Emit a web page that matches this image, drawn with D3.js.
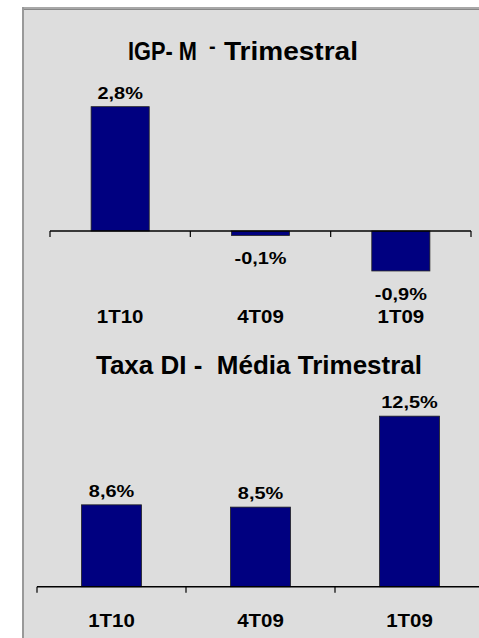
<!DOCTYPE html>
<html><head><meta charset="utf-8">
<script src="https://cdn.jsdelivr.net/npm/d3@7"></script>
<style>body{margin:0;background:#fff;}svg{display:block;}</style>
</head><body>
<script>
const categories = ["1T10", "4T09", "1T09"];
const igpValues = [2.8, -0.1, -0.9];
const igpLabels = ["2,8%", "-0,1%", "-0,9%"];
const diValues = [8.6, 8.5, 12.5];
const diLabels = ["8,6%", "8,5%", "12,5%"];

const W = 479, H = 638;
const svg = d3.select("body").append("svg").attr("width", W).attr("height", H);
const font = "'Liberation Sans', Arial, sans-serif";

// panel
svg.append("rect").attr("x", 23).attr("y", 8).attr("width", W).attr("height", H).attr("fill", "#dddddd");
svg.append("line").attr("x1", 22).attr("x2", W).attr("y1", 8).attr("y2", 8).attr("stroke", "#a8a8a8").attr("stroke-width", 2);
svg.append("line").attr("x1", 22).attr("x2", W).attr("y1", 9.5).attr("y2", 9.5).attr("stroke", "#888").attr("stroke-width", 1);
svg.append("line").attr("x1", 23).attr("x2", 23).attr("y1", 7).attr("y2", H).attr("stroke", "#999").attr("stroke-width", 2);

function drawChart(g, opts) {
  const x = d3.scaleBand().domain(categories).range([opts.x0, opts.x1]);
  const y = d3.scaleLinear().domain(opts.domain).range(opts.yrange);
  const bw = x.bandwidth() * opts.barFrac;
  const base = y(opts.base);

  g.selectAll("rect.bar").data(opts.values).join("rect")
    .attr("class", "bar")
    .attr("x", (d, i) => x(categories[i]) + (x.bandwidth() - bw) / 2)
    .attr("y", d => Math.min(y(d), base))
    .attr("width", bw)
    .attr("height", d => Math.abs(y(d) - base))
    .attr("fill", "#000080").attr("stroke", "#222").attr("stroke-width", 0.8);

  // axis
  const axis = d3.axisBottom(x).tickSize(0).tickFormat("");
  const ag = g.append("g").attr("transform", `translate(0,${base})`).call(axis);
  ag.select(".domain").attr("stroke", "#000").attr("stroke-width", 1.6).attr("d", `M${opts.x0},0H${opts.x1}`);
  const edges = categories.map(c => x(c)).concat([opts.x1]);
  ag.selectAll("line.edge").data(edges).join("line").attr("class", "edge")
    .attr("x1", d => d).attr("x2", d => d).attr("y1", 0).attr("y2", 6)
    .attr("stroke", "#000").attr("stroke-width", 1.2);

  // data labels
  g.selectAll("text.val").data(opts.values).join("text").attr("class", "val")
    .attr("transform", (d, i) => {
      const cx = x(categories[i]) + x.bandwidth() / 2;
      const ty = d >= opts.base ? y(d) - 8 : y(d) + 29;
      return `translate(${cx},${ty}) scale(1.17,1)`;
    })
    .attr("text-anchor", "middle").attr("font-family", font).attr("font-weight", "bold")
    .attr("font-size", 17).attr("fill", "#000")
    .text((d, i) => opts.labels[i]);

  // category labels
  g.selectAll("text.cat").data(categories).join("text").attr("class", "cat")
    .attr("transform", d => `translate(${x(d) + x.bandwidth() / 2},${opts.catY}) scale(1.17,1)`)
    .attr("text-anchor", "middle").attr("font-family", font).attr("font-weight", "bold")
    .attr("font-size", 17.5).attr("fill", "#000")
    .text(d => d);
}

// Chart 1: IGP-M
const g1 = svg.append("g");
const t1 = g1.append("g").attr("font-family", font).attr("font-weight", "bold").attr("fill", "#000");
t1.append("text").attr("x", 128).attr("y", 60).attr("font-size", 26)
  .attr("textLength", 69).attr("lengthAdjust", "spacingAndGlyphs")
  .attr("xml:space", "preserve").text("IGP- M");
t1.append("text").attr("x", 209).attr("y", 53).attr("font-size", 20).text("-");
t1.append("text").attr("x", 224).attr("y", 60).attr("font-size", 26)
  .attr("textLength", 134).attr("lengthAdjust", "spacingAndGlyphs").text("Trimestral");

drawChart(g1, {
  values: igpValues, labels: igpLabels,
  x0: 50, x1: 471, domain: [-1, 3], yrange: [275.4, 97.8], base: 0,
  barFrac: 0.414, catY: 323
});

// Chart 2: Taxa DI
const g2 = svg.append("g");
g2.append("text").attr("x", 259).attr("y", 374).attr("text-anchor", "middle")
  .attr("font-family", font).attr("font-weight", "bold").attr("font-size", 26).attr("fill", "#000")
  .attr("xml:space", "preserve").text("Taxa DI -  Média Trimestral");

drawChart(g2, {
  values: diValues, labels: diLabels,
  x0: 37, x1: 484, domain: [5, 15], yrange: [586.7, 359.3], base: 5,
  barFrac: 0.403, catY: 627
});
</script>
</body></html>
